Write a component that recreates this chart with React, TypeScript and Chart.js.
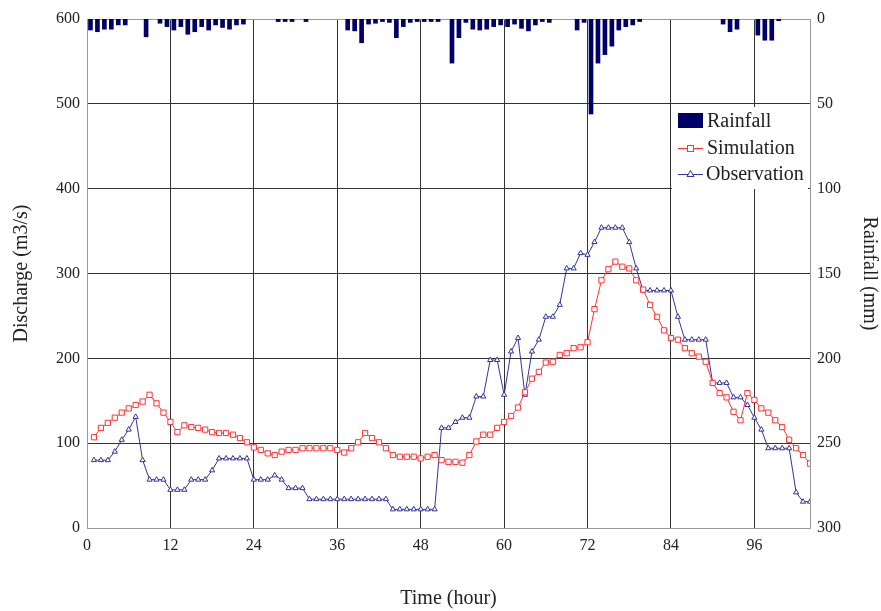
import React, { useEffect, useRef } from 'react';
import { Chart, registerables } from 'chart.js';

Chart.register(...registerables);

// Time axis (hours)
const hours: number[] = Array.from({ length: 104 }, (_, i) => i + 1);

// Simulated discharge (m3/s), hours 1..104
const simulation: number[] = [
  107, 118, 124, 130, 136, 141, 145, 149, 157, 147,
  136, 125, 113, 121, 119, 118, 116, 113, 112, 112,
  110, 106, 101, 95, 92, 88, 86, 90, 92, 92,
  94, 94, 94, 94, 94, 92, 89, 94, 101, 112,
  106, 101, 94, 86, 84, 84, 84, 82, 84, 86,
  80, 78, 78, 77, 86, 102, 110, 110, 118, 125,
  132, 142, 160, 176, 184, 195, 196, 204, 206, 212,
  213, 219, 258, 292, 305, 314, 308, 306, 292, 281,
  263, 249, 233, 224, 222, 212, 206, 202, 196, 171,
  159, 154, 137, 127, 159, 151, 141, 136, 127, 119,
  104, 94, 86, 76,
];

// Observed discharge (m3/s), hours 1..104
const observation: number[] = [
  80, 80, 80, 90, 104, 116, 131, 80, 57, 57,
  57, 45, 45, 45, 57, 57, 57, 68, 82, 82,
  82, 82, 82, 57, 57, 57, 62, 57, 47, 47,
  47, 34, 34, 34, 34, 34, 34, 34, 34, 34,
  34, 34, 34, 22, 22, 22, 22, 22, 22, 22,
  118, 118, 125, 130, 130, 155, 155, 198, 198, 157,
  208, 224, 157, 208, 222, 249, 249, 263, 306, 306,
  324, 322, 337, 354, 354, 354, 354, 337, 306, 280,
  280, 280, 280, 280, 249, 222, 222, 222, 222, 171,
  171, 171, 154, 154, 145, 130, 116, 94, 94, 94,
  94, 42, 31, 31,
];

// Rainfall (mm) per hourly interval starting at rainHours[i]
const rainHours: number[] = [
  0, 1, 2, 3, 4, 5, 8, 10, 11, 12, 13, 14, 15, 16, 17, 18, 19, 20, 21, 22,
  27, 28, 29, 31,
  37, 38, 39, 40, 41, 42, 43, 44, 45, 46, 47,
  48, 49, 50, 52, 53, 54, 55, 56, 57, 58, 59, 60, 61, 62, 63, 64, 65, 66,
  70, 71, 72, 73, 74, 75, 76, 77, 78, 79,
  91, 92, 93, 96, 97, 98, 99,
];
const rainfall: number[] = [
  6.5, 7.5, 6, 6, 3.5, 3.5, 10.5, 2.5, 4.5, 6.5, 4.5, 9, 7.5, 4.5, 6.5, 3.5, 5, 6, 3.5, 3,
  1.5, 1.5, 1.5, 1.5,
  6.5, 7, 14, 3, 2.5, 1.5, 2, 11, 4.5, 2, 1.5,
  1.5, 1.5, 1.5, 26, 11, 2, 6, 6.5, 6, 4.5, 3.5, 4.5, 3, 5.5, 7, 3.5, 1.5, 2,
  6.5, 2, 56, 26, 21, 16, 6.5, 4.5, 3.5, 1.5,
  3, 7.5, 6, 9.5, 12.5, 12.5, 1,
];

const xTicksStep = 12;
const dischargeStep = 100;
const rainStep = 50;

const SERIF = '"Liberation Serif", "Times New Roman", serif';
const RAIN_COLOR = '#000066';
const SIM_COLOR = '#ff3333';
const OBS_COLOR = '#333399';
const TEXT = '#222222';

const legendPlugin = {
  id: 'customLegend',
  afterDraw(chart: any) {
    const { ctx } = chart;
    ctx.save();
    ctx.fillStyle = '#ffffff';
    ctx.fillRect(672, 107, 136, 82);
    ctx.font = `20px ${SERIF}`;
    ctx.textBaseline = 'middle';
    ctx.textAlign = 'left';
    // Rainfall
    ctx.fillStyle = RAIN_COLOR;
    ctx.fillRect(678, 113, 25, 15);
    ctx.fillStyle = TEXT;
    ctx.fillText('Rainfall', 707, 122);
    // Simulation
    ctx.strokeStyle = SIM_COLOR;
    ctx.lineWidth = 1;
    ctx.beginPath();
    ctx.moveTo(678, 148.5);
    ctx.lineTo(703, 148.5);
    ctx.stroke();
    ctx.fillStyle = '#ffffff';
    ctx.fillRect(687, 145, 6, 6);
    ctx.strokeRect(687.5, 145.5, 6, 6);
    ctx.fillStyle = TEXT;
    ctx.fillText('Simulation', 707, 149);
    // Observation
    ctx.strokeStyle = OBS_COLOR;
    ctx.beginPath();
    ctx.moveTo(678, 174.5);
    ctx.lineTo(703, 174.5);
    ctx.stroke();
    ctx.beginPath();
    ctx.moveTo(690.5, 170.5);
    ctx.lineTo(694, 176.5);
    ctx.lineTo(687, 176.5);
    ctx.closePath();
    ctx.fillStyle = '#ffffff';
    ctx.fill();
    ctx.stroke();
    ctx.fillStyle = TEXT;
    ctx.fillText('Observation', 706, 175);
    ctx.restore();
  },
};

export default function App() {
  const canvasRef = useRef<HTMLCanvasElement | null>(null);

  useEffect(() => {
    if (!canvasRef.current) return;
    const tickFont = { family: SERIF, size: 16 };
    const titleFont = { family: SERIF, size: 20 };
    const chart = new Chart(canvasRef.current, {
      type: 'line',
      data: {
        datasets: [
          {
            type: 'line',
            label: 'Simulation',
            data: hours.map((h, i) => ({ x: h, y: simulation[i] })),
            borderColor: SIM_COLOR,
            borderWidth: 1,
            pointStyle: 'rect',
            pointRadius: 3.7,
            pointBorderWidth: 1,
            pointBackgroundColor: '#ffffff',
            pointBorderColor: SIM_COLOR,
            yAxisID: 'y',
            order: 1,
          } as any,
          {
            type: 'line',
            label: 'Observation',
            data: hours.map((h, i) => ({ x: h, y: observation[i] })),
            borderColor: OBS_COLOR,
            borderWidth: 1,
            pointStyle: 'triangle',
            pointRadius: 3,
            pointBorderWidth: 1,
            pointBackgroundColor: '#ffffff',
            pointBorderColor: OBS_COLOR,
            yAxisID: 'y',
            order: 2,
          } as any,
          {
            type: 'bar',
            label: 'Rainfall',
            data: rainHours.map((h, i) => ({ x: h + 0.5, y: rainfall[i] })),
            backgroundColor: RAIN_COLOR,
            borderWidth: 0,
            barThickness: 4,
            yAxisID: 'y2',
            order: 3,
          } as any,
        ],
      },
      options: {
        animation: false,
        responsive: false,
        maintainAspectRatio: false,
        layout: { padding: { top: 19, left: 0, right: 0, bottom: 0 } },
        plugins: {
          legend: { display: false },
          tooltip: { enabled: false },
        },
        scales: {
          x: {
            type: 'linear',
            min: 0,
            max: 104,
            offset: false,
            ticks: {
              stepSize: xTicksStep,
              includeBounds: false,
              font: tickFont,
              color: TEXT,
              padding: 8,
              maxRotation: 0,
            },
            grid: {
              color: (c: any) => (c.tick && c.tick.value === 0 ? '#9a9a9a' : '#333333'),
              drawTicks: false,
              offset: false,
            },
            border: { color: '#9a9a9a' },
            title: {
              display: true,
              text: 'Time (hour)',
              font: titleFont,
              color: TEXT,
              padding: { top: 0, bottom: 0 },
            },
            afterFit: (s: any) => {
              s.height = 83;
            },
          } as any,
          y: {
            type: 'linear',
            position: 'left',
            min: 0,
            max: 600,
            ticks: { stepSize: dischargeStep, font: tickFont, color: TEXT, padding: 7 },
            grid: {
              color: (c: any) => (c.tick && c.tick.value === 600 ? '#9a9a9a' : '#333333'),
              drawTicks: false,
            },
            border: { color: '#9a9a9a' },
            title: {
              display: true,
              text: 'Discharge (m3/s)',
              font: titleFont,
              color: TEXT,
              padding: { top: 10, bottom: 0 },
            },
            afterFit: (s: any) => {
              s.width = 87;
            },
          } as any,
          y2: {
            type: 'linear',
            position: 'right',
            reverse: true,
            min: 0,
            max: 300,
            ticks: { stepSize: rainStep, font: tickFont, color: TEXT, padding: 7 },
            grid: { display: false, drawTicks: false },
            border: { color: '#9a9a9a' },
            title: {
              display: true,
              text: 'Rainfall (mm)',
              font: titleFont,
              color: TEXT,
              padding: { top: 0, bottom: 0 },
            },
            afterFit: (s: any) => {
              s.width = 71;
            },
          } as any,
        },
      },
      plugins: [legendPlugin],
    });
    return () => chart.destroy();
  }, []);

  return (
    <div style={{ position: 'fixed', left: 0, top: 0, width: 881, height: 611, background: '#ffffff' }}>
      <canvas ref={canvasRef} width={881} height={611} style={{ width: 881, height: 611 }} />
    </div>
  );
}
